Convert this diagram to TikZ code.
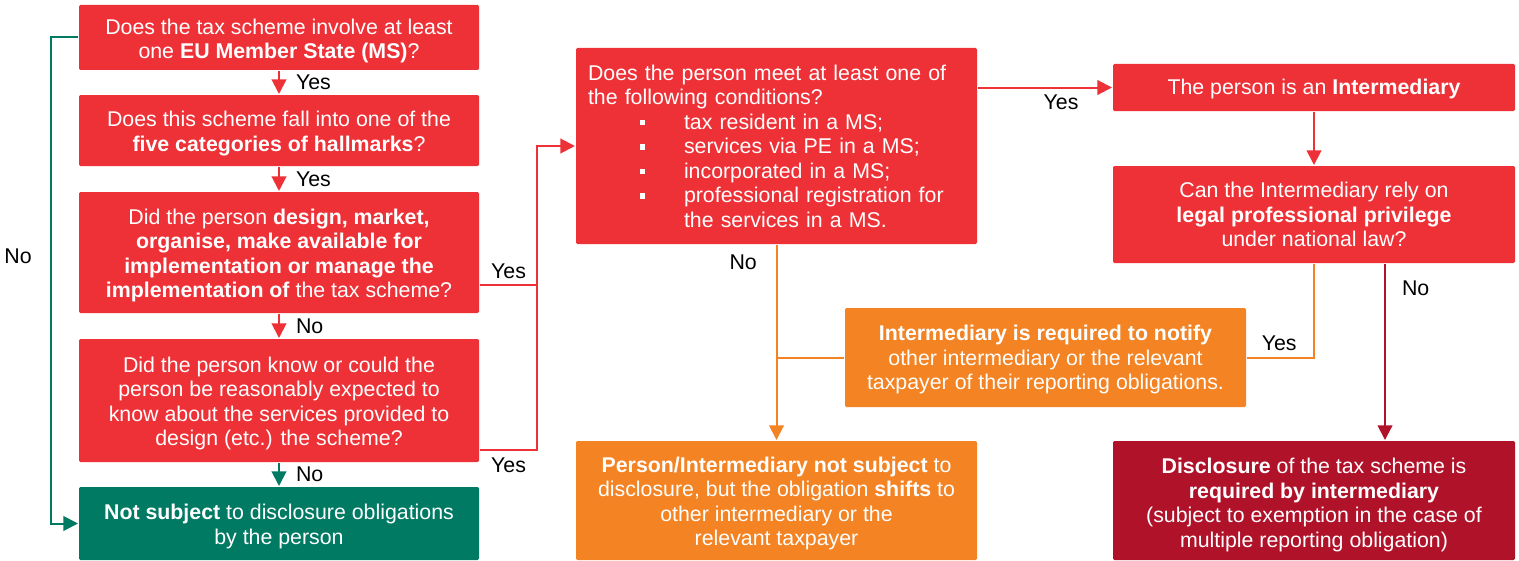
\documentclass[tikz,border=0pt]{standalone}
\usepackage{fontspec}
\setmainfont{Liberation Sans}
\usetikzlibrary{arrows.meta,calc,positioning}

\definecolor{qred}{RGB}{238,49,55}
\definecolor{qgreen}{RGB}{0,122,99}
\definecolor{qorange}{RGB}{243,131,35}
\definecolor{qdark}{RGB}{176,18,42}

\tikzset{every picture/.style={line width=1.5pt}}
\tikzset{
  qbox/.style={fill=qred, inner sep=0pt, rounded corners=1pt, minimum width=300pt},
  qtext/.style={text=white, align=center, inner sep=0pt, font=\fontsize{16}{18.4}\selectfont},
  lbl/.style={text=black, inner sep=1pt, font=\fontsize{16}{18.4}\selectfont},
  arr/.style={-{Triangle[width=11pt,length=11pt]}}
}
\newcommand{\bitem}[1]{\hspace*{39pt}\makebox[33pt][l]{\rule[0.35ex]{4pt}{4pt}}#1}

\begin{document}
\begin{tikzpicture}[x=0.75pt,y=0.75pt,yscale=-1,xscale=1]
\useasboundingbox (0,0) rectangle (1519,560);

%Shape: Rectangle (left column)
\node[qbox, minimum height=48.75pt] (eu) at (279,37.5) {};
\node[qbox, minimum height=53.25pt] (hall) at (279,130.5) {};
\node[qbox, minimum height=90.75pt] (design) at (279,252.5) {};
\node[qbox, minimum height=92.25pt] (know) at (279,400.5) {};
\node[qbox, fill=qgreen, minimum height=54.75pt] (notsub) at (279,523.5) {};

%Shape: Rectangle (middle column)
\node[qbox, minimum width=300.75pt, minimum height=147pt] (cond) at (776.5,146) {};
\node[qbox, fill=qorange, minimum width=300.75pt, minimum height=74.25pt] (notify) at (1045.5,357.5) {};
\node[qbox, fill=qorange, minimum width=300.75pt, minimum height=89.25pt] (shift) at (776.5,500.5) {};

%Shape: Rectangle (right column)
\node[qbox, minimum width=301.5pt, minimum height=35.25pt] (inter) at (1314,87.5) {};
\node[qbox, minimum width=301.5pt, minimum height=72.75pt] (priv) at (1314,214.5) {};
\node[qbox, fill=qdark, minimum width=301.5pt, minimum height=89.25pt] (discl) at (1314,500.5) {};

% Text Node
\node[qtext] (eu-t) at ($(eu)+(0,3.5)$) {Does the tax scheme involve at least\\one \textbf{EU Member State (MS)}?};
\node[qtext] (hall-t) at ($(hall)+(0,3)$) {Does this scheme fall into one of the\\\textbf{five categories of hallmarks}?};
\node[qtext] (design-t) at ($(design)+(0,3)$) {Did the person \textbf{design, market,}\\\textbf{organise, make available for}\\\textbf{implementation or manage the}\\\textbf{implementation of} the tax scheme?};
\node[qtext] (know-t) at ($(know)+(0,3)$) {Did the person know or could the\\person be reasonably expected to\\know about the services provided to\\design (etc.) the scheme?};
\node[qtext] (notsub-t) at ($(notsub)+(0,3)$) {\textbf{Not subject} to disclosure obligations\\by the person};
\node[qtext, align=left, text width=282.75pt] (cond-t) at (cond) {Does the person meet at least one of\\the following conditions?\\\bitem{tax resident in a MS;}\\\bitem{services via PE in a MS;}\\\bitem{incorporated in a MS;}\\\bitem{professional registration for}\\\hspace*{72pt}the services in a MS.};
\node[qtext] (notify-t) at ($(notify)+(0,2)$) {\textbf{Intermediary is required to notify}\\other intermediary or the relevant\\taxpayer of their reporting obligations.};
\node[qtext] (shift-t) at ($(shift)+(0,3)$) {\textbf{Person/Intermediary not subject} to\\disclosure, but the obligation \textbf{shifts} to\\other intermediary or the\\relevant taxpayer};
\node[qtext] (inter-t) at ($(inter)+(0,1)$) {The person is an \textbf{Intermediary}};
\node[qtext] (priv-t) at (priv) {Can the Intermediary rely on\\\textbf{legal professional privilege}\\under national law?};
\node[qtext] (discl-t) at ($(discl)+(0,4.5)$) {\textbf{Disclosure} of the tax scheme is\\\textbf{required by intermediary}\\(subject to exemption in the case of\\multiple reporting obligation)};

%Connectors
\draw[qred, arr] (eu) -- (hall) node[lbl, midway, right=11pt] {Yes};
\draw[qred, arr] (hall) -- (design) node[lbl, midway, right=11pt] {Yes};
\draw[qred, arr] (design) -- (know) node[lbl, midway, right=11pt] {No};
\draw[qgreen, arr] (know) -- (notsub) node[lbl, midway, right=11pt] {No};
\draw[qgreen, arr] (eu.west) -- ++(-27,0) |- (notsub.west);
\node[lbl] (nolbl) at (18,256) {No};

\coordinate (cyes) at ($(design.east)+(0,32.5)$);
\coordinate (kyes) at ($(know.east)+(0,49.5)$);
\coordinate (join) at ($(cond.west)+(-38,0)$);
\draw[qred, arr] (cyes) -| node[lbl, pos=0.25, above=3pt] {Yes} (join) -- (cond.west);
\draw[qred] (kyes) -| node[lbl, pos=0.25, below=4pt] {Yes} (join);

\draw[qred, arr] (cond.east |- inter.west) -- node[lbl, pos=0.62, below=4pt] {Yes} (inter.west);
\draw[qred, arr] (inter) -- (priv);
\draw[qorange] (priv.south) |- node[lbl, pos=0.76, above=3pt] {Yes} (notify.east);
\coordinate (pno) at ($(priv.south)+(71,0)$);
\draw[qdark, arr] (pno) -- node[lbl, pos=0.14, right=11pt] {No} (pno |- discl.north);

\draw[qorange, arr] (cond.south) -- node[lbl, pos=0.09, left=13pt] {No} (shift.north);
\draw[qorange] (notify.west) -- (notify.west -| cond.south);

\end{tikzpicture}
\end{document}
